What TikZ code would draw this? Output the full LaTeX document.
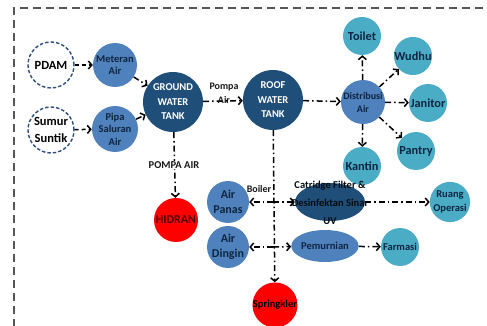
\documentclass[tikz,border=0pt]{standalone}
\usepackage{fontspec}
\setmainfont{Carlito}
\usetikzlibrary{arrows.meta,shapes.geometric}
\definecolor{midblue}{HTML}{4F81BD}
\definecolor{navy}{HTML}{1F4E79}
\definecolor{teal}{HTML}{4BACC6}
\definecolor{txtdark}{HTML}{10253F}
\definecolor{framegray}{HTML}{555555}
\definecolor{dashblue}{HTML}{2F4F7F}
\tikzset{
  circ/.style={circle,inner sep=0pt,align=center,font=\bfseries\fontsize{10.5}{12.5}\selectfont},
  srcnode/.style={circ,draw=dashblue,line width=1.4pt,dash pattern=on 3.5pt off 2pt,fill=white,text=black,minimum size=46pt,font=\bfseries\fontsize{12.5}{17}\selectfont},
  midnode/.style={circ,fill=midblue,text=txtdark,minimum size=44pt},
  tanknode/.style={circ,fill=navy,text=white,minimum size=60pt,font=\bfseries\fontsize{10.5}{14.5}\selectfont},
  tealnode/.style={circ,fill=teal,text=txtdark,minimum size=38pt,font=\bfseries\fontsize{12.3}{14}\selectfont},
  smallteal/.style={tealnode,font=\bfseries\fontsize{10.5}{14}\selectfont},
  rednode/.style={circ,fill=red,text=black!85!red,minimum size=44pt},
  warmnode/.style={circ,fill=midblue,text=txtdark,minimum size=42pt,font=\bfseries\fontsize{12}{14.5}\selectfont},
  lbl/.style={inner sep=1pt,align=center,font=\bfseries\fontsize{10}{14}\selectfont,text=black!90},
  conn/.style={line width=1.5pt,-{Straight Barb[length=3.5pt,width=8pt,line width=1.5pt]}},
  dashc/.style={conn,dash pattern=on 4pt off 3pt},
  ddot/.style={conn,dash pattern=on 6pt off 3pt on 1.5pt off 3pt},
  frame/.style={draw=framegray,line width=1.6pt,dash pattern=on 8pt off 5pt}
}
\begin{document}
\begin{tikzpicture}[x=1pt,y=-1pt]
\useasboundingbox (0,0) rectangle (487,326);
\clip (0,0) rectangle (487,326);
\draw[frame] (14,340) -- (14,8) -- (500,8);

% nodes
\node[srcnode] (pdam) at (51,65) {PDAM};
\node[srcnode] (sumur) at (51,130) {Sumur\\Suntik};
\node[midnode] (met) at (115,65) {Meteran\\Air};
\node[midnode] (pipa) at (115,129) {Pipa\\Saluran\\Air};
\node[tanknode] (gwt) at (173,102) {GROUND\\WATER\\TANK};
\node[tanknode] (rwt) at (273,100) {ROOF\\WATER\\TANK};
\node[midnode,minimum size=44pt,font=\bfseries\fontsize{10}{13}\selectfont] (dist) at (363,102) {Distribusi\\Air};
\node[tealnode] (toilet) at (362,36) {Toilet};
\node[tealnode] (wudhu) at (413,56) {Wudhu};
\node[tealnode] (janitor) at (428,103) {Janitor};
\node[tealnode] (pantry) at (416,151) {Pantry};
\node[tealnode] (kantin) at (362,166) {Kantin};
\node[smallteal] (ruang) at (450,202) {Ruang\\Operasi};
\node[smallteal] (farmasi) at (400,247) {Farmasi};
\node[rednode,font=\bfseries\fontsize{12}{14}\selectfont,text=black!70!red] (hidran) at (176,220) {HIDRAN};
\node[rednode,text=black] (spr) at (275,305) {Springkler};
\node[warmnode] (panas) at (228,202) {Air\\Panas};
\node[warmnode] (dingin) at (228,247) {Air\\Dingin};
\node[ellipse,fill=navy,minimum width=70pt,minimum height=38pt,inner sep=0pt] (cat) at (330,202) {};
\node[align=center,font=\bfseries\fontsize{10.5}{18}\selectfont,text=black!85!navy,inner sep=0pt] (cattext) at (330,203) {Catridge Filter \&\\Desinfektan Sinar\\UV};
\node[ellipse,fill=midblue,minimum width=54pt,minimum height=32pt,inner sep=0pt,font=\bfseries\fontsize{10.5}{12}\selectfont,text=txtdark] (pem) at (325,246) {Pemurnian};

\coordinate (j1) at (273,202);
\coordinate (j2) at (273,247);

% connectors
\draw[dashc] (pdam) -- (met);
\draw[dashc] (sumur) -- (pipa);
\draw[ddot] (met) -- (gwt);
\draw[ddot] (pipa) -- (gwt);
\draw[ddot] (gwt) -- (rwt);
\node[lbl] (pompa) at (224,93) {Pompa\\Air};
\draw[ddot] (rwt) -- (dist);
\draw[ddot] (dist) -- (toilet);
\draw[ddot] (dist) -- (wudhu);
\draw[ddot] (dist) -- (janitor);
\draw[ddot] (dist) -- (pantry);
\draw[ddot] (dist) -- (kantin);
\draw[ddot] (gwt) -- (hidran);
\node[lbl,fill=white,font=\bfseries\fontsize{10.5}{12}\selectfont] (pompaair) at (174,165) {POMPA AIR};
\draw[ddot] (rwt) -- (spr);
\draw[ddot] (j1) -- (panas);
\draw[ddot] (j1) -- (cat);
\draw[ddot] (j2) -- (dingin);
\draw[ddot] (j2) -- (pem);
\node[lbl] (boiler) at (259,189) {Boiler};
\draw[ddot] (cat) -- (ruang);
\draw[ddot] (pem) -- (farmasi);
\end{tikzpicture}
\end{document}
